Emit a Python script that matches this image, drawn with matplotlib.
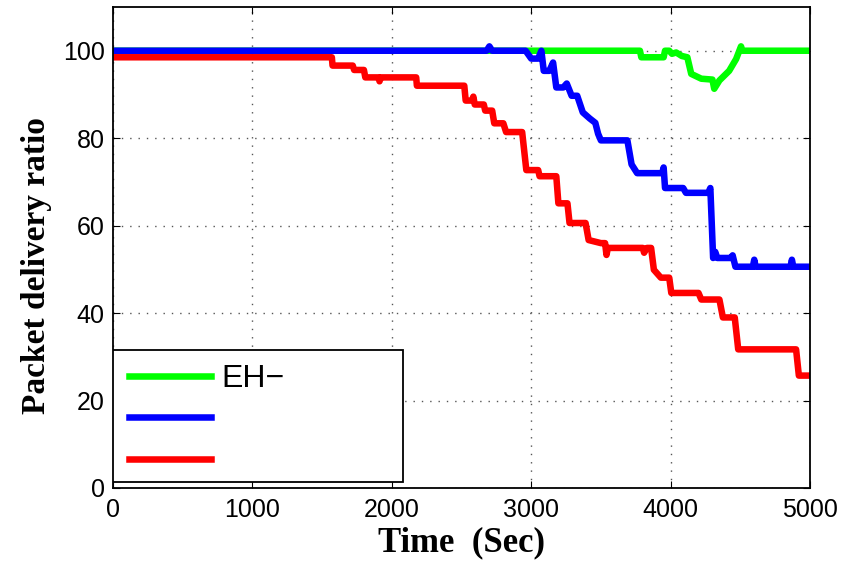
import matplotlib
matplotlib.use('Agg')
import matplotlib.pyplot as plt
from matplotlib.patches import Rectangle

# Data
green_t = [0, 3780, 3790, 3950, 3960, 3990, 4010, 4040, 4080, 4120, 4148, 4220, 4300, 4313,
           4350, 4420, 4470, 4505, 4515, 5000]
green_v = [100, 100, 98.5, 98.5, 100, 100, 99.3, 99.6, 98.8, 98.5, 94.7, 93.6, 93.4, 91.3,
           93.2, 95.4, 98.1, 101, 100, 100]

blue_t = [0, 2680, 2700, 2720, 2960, 3000, 3050, 3073, 3090, 3130, 3157, 3180, 3230, 3255,
          3290, 3330, 3370, 3420, 3460, 3480, 3500, 3690, 3720, 3760, 3940, 3950, 3960,
          4090, 4110, 4270, 4285, 4305, 4320, 4335, 4430, 4445, 4465, 4590, 4600, 4610,
          4860, 4870, 4880, 4990]
blue_v = [100, 100, 101, 100, 100, 98.2, 98.2, 100, 95.4, 95.4, 97.3, 91.6, 91.6, 92.5,
          89.7, 89.7, 85.9, 84.5, 83.5, 81, 79.5, 79.5, 74, 72, 72, 73.3, 68.6,
          68.6, 67.5, 67.5, 68.6, 52.6, 54, 52.6, 52.6, 53.2, 50.6, 50.6, 52.2, 50.6,
          50.6, 52.2, 50.6, 50.6]

red_t = [0, 1570, 1575, 1720, 1730, 1800, 1810, 1905, 1912, 1920, 2175, 2180, 2520, 2530,
         2575, 2585, 2595, 2660, 2670, 2720, 2735, 2800, 2820, 2935, 2965, 3050, 3060,
         3180, 3195, 3260, 3275, 3390, 3412, 3500, 3530, 3540, 3550, 3800, 3810, 3830,
         3860, 3880, 3930, 3990, 4005, 4200, 4220, 4350, 4375, 4460, 4485, 4900, 4920, 5000]
red_v = [98.5, 98.5, 96.6, 96.6, 95.6, 95.6, 93.9, 93.9, 93.0, 93.9, 93.9, 92.0, 92.0, 88.6,
         88.6, 89.5, 87.7, 87.7, 86.3, 86.3, 83.4, 83.4, 81.4, 81.4, 72.7, 72.7, 71.3,
         71.3, 65.1, 65.1, 60.6, 60.6, 56.7, 56.0, 56.0, 53.3, 54.9, 54.9, 53.8, 54.9,
         54.9, 49.9, 48.1, 48.1, 44.6, 44.6, 43.1, 43.1, 39.0, 39.0, 31.7, 31.7, 25.7, 25.7]

labels = ['EH\u2212', ' ', ' ']
xticks = [0, 1000, 2000, 3000, 4000, 5000]
yticks = [0, 20, 40, 60, 80, 100]

fig = plt.figure(figsize=(8.45, 5.69), dpi=100)
ax = fig.add_axes([0.1337, 0.1424, 0.8249, 0.8453])

lw = 4.7
ax.plot(green_t, green_v, color='#00ff00', lw=lw, label=labels[0], solid_joinstyle='round')
ax.plot(blue_t, blue_v, color='#0000ff', lw=lw, label=labels[1], solid_joinstyle='round')
ax.plot(red_t, red_v, color='#ff0000', lw=lw, label=labels[2], solid_joinstyle='round')

ax.set_xlim(0, 5000)
ax.set_ylim(0, 110)
ax.set_xticks(xticks)
ax.set_yticks(yticks)
ax.grid(True, linestyle=(0, (1, 5)), color='#555555', linewidth=1.0)
ax.tick_params(direction='in', top=True, right=True, length=5, labelsize=18,
               labelfontfamily='Liberation Sans')
ax.tick_params(axis='x', pad=7)
ax.tick_params(axis='y', pad=6)
for s in ax.spines.values():
    s.set_linewidth(1.3)

ax.set_xlabel('Time  (Sec)', fontsize=25, fontweight='bold', family='Liberation Serif')
ax.set_ylabel('Packet delivery ratio', fontsize=24, fontweight='bold', family='Liberation Serif')
ax.xaxis.set_label_coords(0.5, -0.079)
ax.yaxis.set_label_coords(-0.087, 0.463)

# legend box (MATLAB style, square corners)
ax.add_patch(Rectangle((0, 0.013), 0.4157, 0.274, transform=ax.transAxes,
                       facecolor='white', edgecolor='black', lw=1.3, zorder=4))
leg = ax.legend(loc='upper left', bbox_to_anchor=(0.0234, 0.2575), borderaxespad=0,
                borderpad=0, frameon=False, handlelength=2.56, handletextpad=0.31,
                labelspacing=0.36, prop={'family': 'Liberation Sans', 'size': 23})
leg.set_zorder(5)

fig.savefig('out.png', dpi=100)
